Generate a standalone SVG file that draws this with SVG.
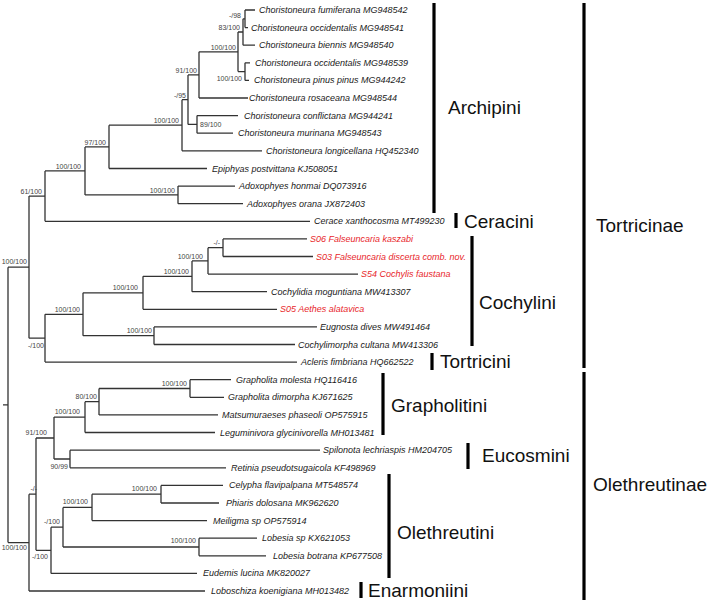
<svg xmlns="http://www.w3.org/2000/svg" width="709" height="603" viewBox="0 0 709 603">
<style>
.br{fill:none;stroke:#333;stroke-width:1.3}
.sp{font-family:"Liberation Sans",Arial,sans-serif;font-style:italic;font-size:9px;fill:#1a1a1a}
.red{fill:#e8262b}
.bs{font-family:"Liberation Sans",Arial,sans-serif;font-size:7px;fill:#444;text-anchor:end}
.bsl{font-family:"Liberation Sans",Arial,sans-serif;font-size:7px;fill:#444}
.bar{fill:none;stroke:#000;stroke-width:3.2}
.cl{font-family:"Liberation Sans",Arial,sans-serif;font-size:19px;fill:#111}
</style>
<rect width="709" height="603" fill="#fff"/>
<g id="connectors">
<path class="br" d="M3 404.9H8M8 267.2V542.6M8 267.2H29M8 542.6H29"/>
<path class="br" d="M29 196.1V338.2M29 196.1H45M29 338.2H45"/>
<path class="br" d="M45 170.9V221.3M45 170.9H85M45 221.3H310"/>
<path class="br" d="M85 146.9V194.9M85 146.9H109M85 194.9H178"/>
<path class="br" d="M109 125.2V168.5M109 125.2H182M109 168.5H207"/>
<path class="br" d="M178 186.1V203.7M178 186.1H235M178 203.7H243"/>
<path class="br" d="M182 99.7V150.8M182 99.7H188M182 150.8H262"/>
<path class="br" d="M188 74.9V124.4M188 74.9H199M188 124.4H197"/>
<path class="br" d="M197 115.6V133.2M197 115.6H238M197 133.2H233"/>
<path class="br" d="M199 51.8V98M199 51.8H238M199 98H248"/>
<path class="br" d="M238 32V71.6M238 32H243M238 71.6H245"/>
<path class="br" d="M245 62.8V80.4M245 62.8H250M245 80.4H249"/>
<path class="br" d="M243 18.8V45.2M243 18.8H245M243 45.2H255"/>
<path class="br" d="M245 10V27.6M245 10H255M245 27.6H248"/>
<path class="br" d="M45 314.3V362.1M45 314.3H83M45 362.1H297"/>
<path class="br" d="M83 292.8V335.7M83 292.8H143M83 335.7H154"/>
<path class="br" d="M154 326.9V344.5M154 326.9H317M154 344.5H295"/>
<path class="br" d="M143 276.3V309.3M143 276.3H192M143 309.3H277"/>
<path class="br" d="M192 260.9V291.7M192 260.9H208M192 291.7H267"/>
<path class="br" d="M208 247.7V274.1M208 247.7H223M208 274.1H358"/>
<path class="br" d="M223 238.9V256.5M223 238.9H307M223 256.5H313"/>
<path class="br" d="M29 494.2V591M29 494.2H36M29 591H205"/>
<path class="br" d="M36 438V550.3M36 438H54M36 550.3H51"/>
<path class="br" d="M54 417.1V459M54 417.1H85M54 459H70"/>
<path class="br" d="M85 401.7V432.5M85 401.7H99M85 432.5H215"/>
<path class="br" d="M99 388.5V414.9M99 388.5H190M99 414.9H218"/>
<path class="br" d="M190 379.7V397.3M190 379.7H231M190 397.3H224"/>
<path class="br" d="M70 450.2V467.8M70 450.2H320M70 467.8H226"/>
<path class="br" d="M51 527.2V573.4M51 527.2H63M51 573.4H197"/>
<path class="br" d="M63 507.4V547M63 507.4H92M63 547H199"/>
<path class="br" d="M92 494.2V520.6M92 494.2H161M92 520.6H207"/>
<path class="br" d="M161 485.4V503M161 485.4H223M161 503H219"/>
<path class="br" d="M199 538.2V555.8M199 538.2H257M199 555.8H266"/>
</g>
<g id="support">
<text class="bs" x="241" y="17.5">-/98</text>
<text class="bs" x="240" y="30">83/100</text>
<text class="bs" x="236" y="49.5">100/100</text>
<text class="bs" x="242" y="80.5">100/100</text>
<text class="bs" x="197" y="72.5">91/100</text>
<text class="bsl" x="200" y="127">89/100</text>
<text class="bs" x="186" y="97.5">-/95</text>
<text class="bs" x="179" y="122.5">100/100</text>
<text class="bs" x="106" y="144.5">97/100</text>
<text class="bs" x="175" y="192.5">100/100</text>
<text class="bs" x="81" y="168.5">100/100</text>
<text class="bs" x="42" y="193.5">61/100</text>
<text class="bs" x="220" y="245">-/-</text>
<text class="bs" x="203" y="258.5">100/100</text>
<text class="bs" x="189" y="274">100/100</text>
<text class="bs" x="138" y="290">100/100</text>
<text class="bs" x="152" y="332.5">100/100</text>
<text class="bs" x="80" y="311.5">100/100</text>
<text class="bs" x="44" y="347.5">-/100</text>
<text class="bs" x="27" y="264">100/100</text>
<text class="bs" x="187" y="385.5">100/100</text>
<text class="bs" x="97" y="399">80/100</text>
<text class="bs" x="80" y="414">100/100</text>
<text class="bs" x="68" y="468.5">90/99</text>
<text class="bs" x="47" y="435">91/100</text>
<text class="bs" x="157" y="490.5">100/100</text>
<text class="bs" x="88" y="504">100/100</text>
<text class="bs" x="196" y="543">100/100</text>
<text class="bs" x="60" y="523.5">-/100</text>
<text class="bs" x="48" y="558.5">-/100</text>
<text class="bs" x="37" y="490.5">-/-</text>
<text class="bs" x="27" y="550">100/100</text>
</g>
<g id="t1"><text class="sp" x="259" y="13">Choristoneura fumiferana MG948542</text></g>
<g id="t2"><text class="sp" x="251" y="30.6">Choristoneura occidentalis MG948541</text></g>
<g id="t3"><text class="sp" x="259" y="48.2">Choristoneura biennis MG948540</text></g>
<g id="t4"><text class="sp" x="255" y="65.8">Choristoneura occidentalis MG948539</text></g>
<g id="t5"><text class="sp" x="254" y="83.4">Choristoneura pinus pinus MG944242</text></g>
<g id="t6"><text class="sp" x="249" y="101">Choristoneura rosaceana MG948544</text></g>
<g id="t7"><text class="sp" x="244" y="118.6">Choristoneura conflictana MG944241</text></g>
<g id="t8"><text class="sp" x="238" y="136.2">Choristoneura murinana MG948543</text></g>
<g id="t9"><text class="sp" x="266" y="153.8">Choristoneura longicellana HQ452340</text></g>
<g id="t10"><text class="sp" x="212" y="171.5">Epiphyas postvittana KJ508051</text></g>
<g id="t11"><text class="sp" x="239" y="189.1">Adoxophyes honmai DQ073916</text></g>
<g id="t12"><text class="sp" x="247" y="206.7">Adoxophyes orana JX872403</text></g>
<g id="t13"><text class="sp" x="314" y="224.3">Cerace xanthocosma MT499230</text></g>
<g id="t14"><text class="sp red" x="310" y="241.9">S06 Falseuncaria kaszabi</text></g>
<g id="t15"><text class="sp red" x="316" y="259.5">S03 Falseuncaria discerta comb. nov.</text></g>
<g id="t16"><text class="sp red" x="361" y="277.1">S54 Cochylis faustana</text></g>
<g id="t17"><text class="sp" x="271" y="294.7">Cochylidia moguntiana MW413307</text></g>
<g id="t18"><text class="sp red" x="280" y="312.3">S05 Aethes alatavica</text></g>
<g id="t19"><text class="sp" x="320" y="329.9">Eugnosta dives MW491464</text></g>
<g id="t20"><text class="sp" x="298" y="347.5">Cochylimorpha cultana MW413306</text></g>
<g id="t21"><text class="sp" x="301" y="365.1">Acleris fimbriana HQ662522</text></g>
<g id="t22"><text class="sp" x="236" y="382.7">Grapholita molesta HQ116416</text></g>
<g id="t23"><text class="sp" x="228" y="400.3">Grapholita dimorpha KJ671625</text></g>
<g id="t24"><text class="sp" x="222" y="417.9">Matsumuraeses phaseoli OP575915</text></g>
<g id="t25"><text class="sp" x="220" y="435.5">Leguminivora glycinivorella MH013481</text></g>
<g id="t26"><text class="sp" x="323" y="453.2">Spilonota lechriaspis HM204705</text></g>
<g id="t27"><text class="sp" x="231" y="470.8">Retinia pseudotsugaicola KF498969</text></g>
<g id="t28"><text class="sp" x="229" y="488.4">Celypha flavipalpana MT548574</text></g>
<g id="t29"><text class="sp" x="226" y="506">Phiaris dolosana MK962620</text></g>
<g id="t30"><text class="sp" x="213" y="523.6">Meiligma sp OP575914</text></g>
<g id="t31"><text class="sp" x="262" y="541.2">Lobesia sp KX621053</text></g>
<g id="t32"><text class="sp" x="273" y="558.8">Lobesia botrana KP677508</text></g>
<g id="t33"><text class="sp" x="203" y="576.4">Eudemis lucina MK820027</text></g>
<g id="t34"><text class="sp" x="211" y="594">Loboschiza koenigiana MH013482</text></g>
<g id="clades">
<g id="archipini"><path class="bar" d="M434 3V213"/><text class="cl" x="448" y="114">Archipini</text></g>
<g id="ceracini"><path class="bar" d="M456 213V228"/><text class="cl" x="464" y="228">Ceracini</text></g>
<g id="cochylini"><path class="bar" d="M472 236V346"/><text class="cl" x="479" y="309">Cochylini</text></g>
<g id="tortricini"><path class="bar" d="M432 353V370"/><text class="cl" x="440" y="368">Tortricini</text></g>
<g id="grapholitini"><path class="bar" d="M383 373V435"/><text class="cl" x="391" y="412">Grapholitini</text></g>
<g id="eucosmini"><path class="bar" d="M468 443V469"/><text class="cl" x="482" y="462">Eucosmini</text></g>
<g id="olethreutini"><path class="bar" d="M389 474V578"/><text class="cl" x="397" y="539">Olethreutini</text></g>
<g id="enarmoniini"><path class="bar" d="M361 582V598"/><text class="cl" x="368" y="597">Enarmoniini</text></g>
<g id="tortricinae"><path class="bar" d="M584 3V368"/><text class="cl" x="596" y="232">Tortricinae</text></g>
<g id="olethreutinae"><path class="bar" d="M584 372V600"/><text class="cl" x="593" y="491">Olethreutinae</text></g>
</g>
</svg>
